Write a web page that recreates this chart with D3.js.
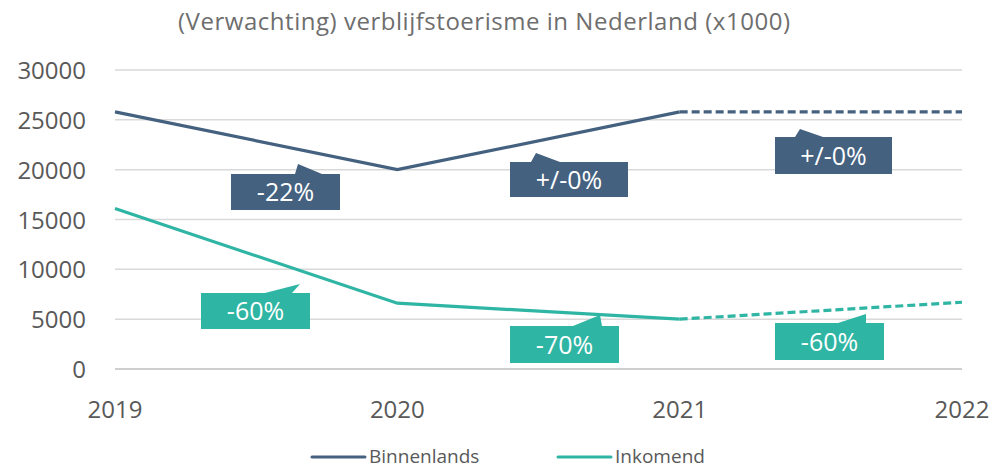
<!DOCTYPE html>
<html><head><meta charset="utf-8">
<script src="https://cdn.jsdelivr.net/npm/d3@7"></script>
<style>body{margin:0;background:#fff;}svg{display:block;font-family:"Open Sans",sans-serif;}</style>
</head><body>
<svg id="c" width="992" height="469"></svg>
<script>
const years = ["2019","2020","2021","2022"];
const binnenlands = [25800, 20000, 25800, 25800];
const inkomend = [16100, 6600, 5000, 6700];
const yTicks = [0,5000,10000,15000,20000,25000,30000];
const callouts = [
  {label:"-22%", series:"Binnenlands", x:231, y:174, w:109, h:36, tip:[298,164], b0:295, b1:322},
  {label:"+/-0%", series:"Binnenlands", x:510, y:162, w:118, h:35, tip:[536,153], b0:531, b1:560},
  {label:"+/-0%", series:"Binnenlands", x:775, y:137, w:117, h:37, tip:[800,129], b0:795, b1:823},
  {label:"-60%", series:"Inkomend", x:201, y:293, w:109, h:36, tip:[300,284], b0:265, b1:292},
  {label:"-70%", series:"Inkomend", x:510, y:326, w:109, h:37, tip:[600,315], b0:573, b1:602},
  {label:"-60%", series:"Inkomend", x:775, y:323, w:109, h:37, tip:[866,314], b0:838, b1:866}
];
const colors = {Binnenlands:"#44617f", Inkomend:"#2fb5a3"};

const svg = d3.select("#c");
const x = d3.scalePoint().domain(years).range([115,962]);
const y = d3.scaleLinear().domain([0,30000]).range([369,70]);

svg.append("text").attr("x",178).attr("y",30)
  .attr("fill","#6e6e6e").attr("font-size","24px")
  .attr("textLength",612).attr("lengthAdjust","spacing")
  .text("(Verwachting) verblijfstoerisme in Nederland (x1000)");

// grid
svg.append("g").selectAll("line").data(yTicks).join("line")
  .attr("x1",115).attr("x2",962).attr("y1",d=>y(d)).attr("y2",d=>y(d))
  .attr("stroke",d=>d===0?"#bfbfbf":"#d9d9d9").attr("stroke-width",1.5);

// y labels
svg.append("g").selectAll("text").data(yTicks).join("text")
  .attr("x",86).attr("y",d=>y(d)+9).attr("text-anchor","end")
  .attr("fill","#595959").attr("font-size","24px").text(d=>d);

// x labels
svg.append("g").selectAll("text").data(years).join("text")
  .attr("x",d=>x(d)).attr("y",418).attr("text-anchor","middle")
  .attr("fill","#595959").attr("font-size","24px").text(d=>d);

const line = d3.line().x(d=>x(d.year)).y(d=>y(d.v));
function drawSeries(vals,color){
  const pts = years.map((yr,i)=>({year:yr,v:vals[i]}));
  svg.append("path").attr("d",line(pts.slice(0,3))).attr("fill","none")
    .attr("stroke",color).attr("stroke-width",3.2);
  svg.append("path").attr("d",line(pts.slice(2))).attr("fill","none")
    .attr("stroke",color).attr("stroke-width",3.2).attr("stroke-dasharray","8,4");
}
drawSeries(binnenlands,colors.Binnenlands);
drawSeries(inkomend,colors.Inkomend);

// callouts
const cg = svg.append("g").selectAll("g").data(callouts).join("g");
cg.append("path").attr("fill",d=>colors[d.series]).attr("d",d=>{
  return `M${d.x},${d.y} L${d.b0},${d.y} L${d.tip[0]},${d.tip[1]} L${d.b1},${d.y} L${d.x+d.w},${d.y} L${d.x+d.w},${d.y+d.h} L${d.x},${d.y+d.h} Z`;
});
cg.append("text").attr("x",d=>d.x+d.w/2).attr("y",d=>d.y+d.h/2+9)
  .attr("text-anchor","middle").attr("fill","#fff").attr("font-size","25px").text(d=>d.label);

// legend
const leg = [{name:"Binnenlands",x:312},{name:"Inkomend",x:558}];
const lg = svg.append("g").selectAll("g").data(leg).join("g");
lg.append("line").attr("x1",d=>d.x).attr("x2",d=>d.x+53).attr("y1",457).attr("y2",457)
  .attr("stroke",d=>colors[d.name]).attr("stroke-width",3).attr("stroke-linecap","round");
lg.append("text").attr("x",d=>d.x+57).attr("y",463).attr("fill","#595959")
  .attr("font-size","19px").text(d=>d.name);
</script>
</body></html>
